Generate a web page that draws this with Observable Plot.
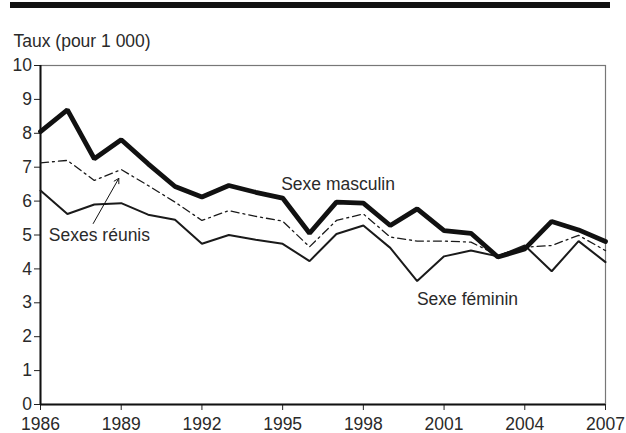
<!DOCTYPE html>
<html>
<head>
<meta charset="utf-8">
<script src="https://cdn.jsdelivr.net/npm/d3@7"></script>
<script src="https://cdn.jsdelivr.net/npm/@observablehq/plot@0.6"></script>
<style>
  body { margin: 0; background: #fff; }
  #wrap { position: relative; width: 626px; height: 433px; }
  #bar { position: absolute; left: 10px; top: 2px; width: 600px; height: 6px; background: #111; }
</style>
</head>
<body>
<div id="wrap"><div id="bar"></div></div>
<script>
const years = d3.range(1986, 2008);
const masculin = [8.05, 8.69, 7.25, 7.81, 7.10, 6.43, 6.12, 6.46, 6.26, 6.09, 5.05, 5.97, 5.94, 5.28, 5.77, 5.13, 5.05, 4.35, 4.59, 5.40, 5.15, 4.81];
const reunis   = [7.13, 7.20, 6.61, 6.93, 6.46, 5.97, 5.43, 5.72, 5.55, 5.41, 4.65, 5.43, 5.62, 4.94, 4.82, 4.82, 4.79, 4.40, 4.64, 4.69, 4.99, 4.54];
const feminin  = [6.31, 5.62, 5.90, 5.94, 5.60, 5.45, 4.74, 5.00, 4.86, 4.74, 4.23, 5.03, 5.28, 4.62, 3.64, 4.37, 4.54, 4.37, 4.69, 3.93, 4.82, 4.20];
const xTicks = [1986, 1989, 1992, 1995, 1998, 2001, 2004, 2007];
const yTicks = d3.range(0, 11);
const title = "Taux (pour 1 000)";
const labels = [
  {x: 1997.06, y: 6.49, text: "Sexe masculin"},
  {x: 1988.19, y: 4.99, text: "Sexes réunis"},
  {x: 2001.87, y: 3.10, text: "Sexe féminin"}
];
const arrowData = [{x1: 1987.96, y1: 5.34, x2: 1988.91, y2: 6.67}];

const toRows = vals => years.map((yr, i) => ({year: yr, value: vals[i]}));
const FS = 17.5;
const TXT = "#2a2a2a";

const chart = Plot.plot({
  width: 626,
  height: 433,
  marginLeft: 40,
  marginRight: 21,
  marginTop: 65,
  marginBottom: 29,
  style: {fontFamily: "'Liberation Sans', Arial, sans-serif", fontSize: FS + "px", color: TXT, background: "transparent", overflow: "visible"},
  x: {domain: [1986, 2007], label: null},
  y: {domain: [0, 10], label: null},
  marks: [
    Plot.frame({stroke: "#777", strokeWidth: 1.2}),
    Plot.axisY({ticks: yTicks, tickSize: 6, tickPadding: 2.5, label: null, fontSize: FS, stroke: "#222", fill: TXT}),
    Plot.axisX({ticks: xTicks, tickFormat: d => String(d), tickSize: 6, tickPadding: 7, label: null, fontSize: FS, stroke: "#222", fill: TXT}),
    Plot.ruleX([1986], {stroke: "#111", strokeWidth: 2}),
    Plot.ruleY([0], {stroke: "#111", strokeWidth: 2}),
    Plot.line(toRows(feminin), {x: "year", y: "value", stroke: "#1a1a1a", strokeWidth: 2, strokeLinejoin: "miter"}),
    Plot.line(toRows(reunis), {x: "year", y: "value", stroke: "#1a1a1a", strokeWidth: 1.3, strokeDasharray: "8,4,2,4"}),
    Plot.line(toRows(masculin), {x: "year", y: "value", stroke: "#111", strokeWidth: 4.8, strokeLinejoin: "miter"}),
    Plot.text(labels, {x: "x", y: "y", text: "text", fontSize: FS, fill: TXT}),
    Plot.arrow(arrowData, {x1: "x1", y1: "y1", x2: "x2", y2: "y2", stroke: "#111", strokeWidth: 1, headLength: 8, bend: 0}),
    Plot.text([title], {frameAnchor: "top-left", dx: -27, dy: -24, textAnchor: "start", lineAnchor: "middle", fontSize: FS, fill: TXT})
  ]
});
document.getElementById("wrap").appendChild(chart);
</script>
</body>
</html>
